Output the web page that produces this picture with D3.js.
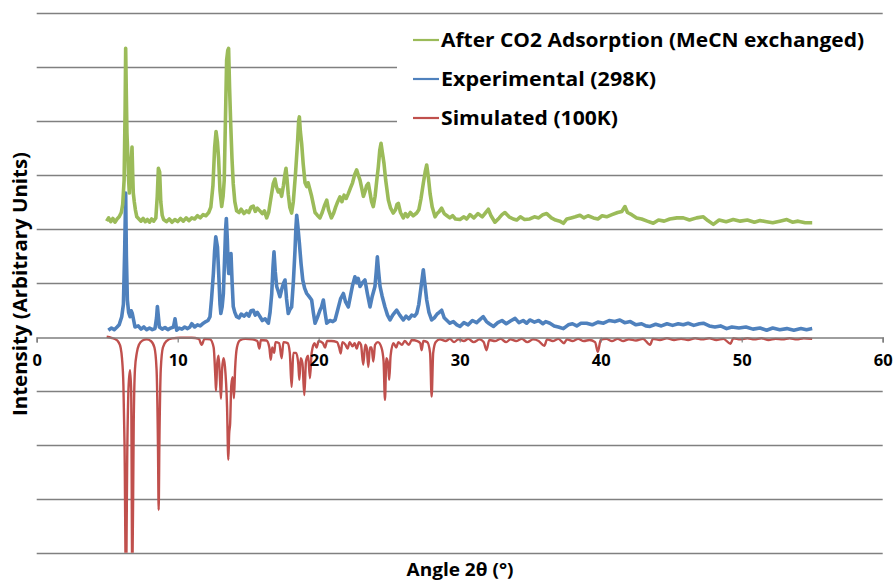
<!DOCTYPE html>
<html>
<head>
<meta charset="utf-8">
<script src="https://cdn.jsdelivr.net/npm/d3@7"></script>
<style>
  body { margin: 0; background: #fff; }
  text { font-family: "Open Sans", "DejaVu Sans", sans-serif; font-weight: bold; fill: #000; }
</style>
</head>
<body>
<script>
var svgWidth = 894;
var svgHeight = 581;

// x ticks and y grid range (arbitrary units, one grid step = 1)
var xTicks = [0, 10, 20, 30, 40, 50, 60];
var yDomain = [-4, 6];

var seriesNames = ["After CO2 Adsorption (MeCN exchanged)", "Experimental (298K)", "Simulated (100K)"];
var seriesColors = ["#9bbb59", "#4f81bd", "#c0504d"];

// [2theta, intensity] (offset stacked)
var afterCO2 = [[4.96,2.14],[5.1,2.2],[5.25,2.13],[5.4,2.19],[5.55,2.12],[5.7,2.18],[5.85,2.22],[6.0,2.3],[6.1,2.45],[6.2,2.9],[6.27,4.2],[6.31,5.34],[6.35,4.6],[6.4,3.77],[6.47,3.3],[6.52,2.9],[6.57,2.66],[6.62,3.0],[6.7,3.2],[6.76,3.51],[6.81,3.0],[6.85,2.66],[6.92,2.5],[7.0,2.35],[7.1,2.22],[7.25,2.18],[7.4,2.14],[7.55,2.19],[7.7,2.13],[7.85,2.17],[8.0,2.12],[8.15,2.18],[8.3,2.14],[8.45,2.2],[8.55,2.6],[8.63,3.12],[8.72,3.05],[8.8,2.5],[8.9,2.25],[9.0,2.17],[9.2,2.13],[9.4,2.18],[9.6,2.12],[9.8,2.17],[10.0,2.13],[10.2,2.19],[10.4,2.14],[10.6,2.2],[10.8,2.15],[11.0,2.2],[11.2,2.18],[11.4,2.24],[11.6,2.2],[11.8,2.26],[12.0,2.24],[12.2,2.3],[12.35,2.4],[12.5,2.8],[12.62,3.5],[12.72,3.8],[12.82,3.6],[12.9,3.3],[13.0,2.7],[13.12,2.41],[13.22,2.6],[13.3,2.9],[13.4,4.2],[13.47,5.12],[13.55,5.3],[13.61,5.34],[13.68,4.6],[13.76,3.94],[13.85,3.3],[13.94,2.83],[14.05,2.5],[14.18,2.33],[14.35,2.3],[14.5,2.36],[14.7,2.28],[14.89,2.33],[15.05,2.3],[15.2,2.4],[15.36,2.42],[15.5,2.32],[15.65,2.38],[15.83,2.33],[16.0,2.28],[16.15,2.33],[16.31,2.2],[16.45,2.3],[16.6,2.55],[16.78,2.84],[16.9,2.92],[17.0,2.78],[17.13,2.68],[17.25,2.72],[17.37,2.6],[17.5,2.8],[17.6,3.0],[17.68,3.12],[17.76,2.9],[17.84,2.64],[17.95,2.4],[18.08,2.29],[18.2,2.5],[18.35,3.0],[18.5,3.6],[18.58,4.0],[18.63,4.07],[18.7,3.8],[18.79,3.58],[18.9,3.2],[19.03,2.85],[19.15,2.78],[19.25,2.85],[19.38,2.72],[19.5,2.6],[19.62,2.45],[19.74,2.3],[19.9,2.25],[20.09,2.2],[20.25,2.3],[20.4,2.42],[20.57,2.53],[20.7,2.35],[20.9,2.2],[21.05,2.28],[21.2,2.4],[21.35,2.5],[21.51,2.59],[21.65,2.5],[21.8,2.62],[21.95,2.56],[22.1,2.65],[22.25,2.75],[22.4,2.85],[22.55,3.0],[22.69,3.09],[22.8,3.0],[22.93,2.9],[23.05,2.75],[23.17,2.6],[23.3,2.7],[23.4,2.8],[23.52,2.84],[23.65,2.65],[23.75,2.5],[23.87,2.41],[24.0,2.6],[24.12,2.9],[24.23,3.15],[24.33,3.45],[24.42,3.58],[24.52,3.4],[24.63,3.21],[24.75,2.9],[24.94,2.53],[25.1,2.38],[25.29,2.29],[25.45,2.35],[25.55,2.45],[25.65,2.47],[25.8,2.3],[26.0,2.2],[26.15,2.28],[26.3,2.22],[26.5,2.3],[26.7,2.24],[26.95,2.29],[27.1,2.35],[27.25,2.55],[27.42,2.84],[27.55,3.05],[27.66,3.18],[27.78,2.95],[27.9,2.65],[28.05,2.4],[28.25,2.22],[28.4,2.28],[28.55,2.32],[28.72,2.38],[28.9,2.28],[29.1,2.24],[29.3,2.2],[29.5,2.24],[29.7,2.18],[30.02,2.17],[30.3,2.22],[30.5,2.18],[30.73,2.26],[31.0,2.2],[31.3,2.28],[31.6,2.22],[31.85,2.3],[32.03,2.36],[32.2,2.25],[32.5,2.12],[32.8,2.2],[33.0,2.26],[33.21,2.3],[33.5,2.22],[33.8,2.18],[34.04,2.16],[34.3,2.22],[34.6,2.17],[34.97,2.18],[35.3,2.22],[35.6,2.2],[35.9,2.26],[36.17,2.28],[36.5,2.2],[36.8,2.16],[37.1,2.14],[37.35,2.1],[37.6,2.18],[37.9,2.2],[38.2,2.22],[38.53,2.25],[38.8,2.2],[39.1,2.24],[39.48,2.2],[39.8,2.18],[40.1,2.24],[40.42,2.22],[40.8,2.26],[41.2,2.3],[41.5,2.32],[41.72,2.41],[41.9,2.3],[42.2,2.26],[42.55,2.2],[42.9,2.18],[43.3,2.14],[43.73,2.1],[44.1,2.16],[44.5,2.14],[44.9,2.18],[45.4,2.2],[45.86,2.2],[46.3,2.16],[46.8,2.2],[47.28,2.22],[47.6,2.15],[47.99,2.08],[48.4,2.16],[48.9,2.13],[49.4,2.17],[49.9,2.14],[50.4,2.16],[50.9,2.12],[51.3,2.15],[51.77,2.13],[52.2,2.11],[52.7,2.14],[53.2,2.17],[53.6,2.12],[54.0,2.14],[54.5,2.11],[55.0,2.11]];

var experimental = [[5.08,0.12],[5.3,0.16],[5.5,0.13],[5.7,0.18],[5.85,0.22],[6.03,0.37],[6.15,0.6],[6.24,1.6],[6.31,2.66],[6.36,1.5],[6.43,0.68],[6.52,0.45],[6.62,0.37],[6.7,0.48],[6.78,0.43],[6.88,0.3],[6.97,0.18],[7.2,0.2],[7.4,0.14],[7.6,0.18],[7.8,0.13],[8.0,0.16],[8.2,0.13],[8.39,0.15],[8.5,0.35],[8.56,0.56],[8.62,0.4],[8.7,0.18],[8.9,0.14],[9.1,0.17],[9.3,0.13],[9.5,0.16],[9.7,0.18],[9.81,0.33],[9.93,0.12],[10.1,0.16],[10.3,0.14],[10.5,0.18],[10.7,0.15],[10.87,0.18],[11.0,0.24],[11.2,0.18],[11.4,0.22],[11.6,0.2],[11.82,0.25],[12.0,0.28],[12.15,0.3],[12.29,0.37],[12.4,0.7],[12.53,1.17],[12.62,1.6],[12.7,1.85],[12.82,1.66],[12.92,1.1],[13.0,0.6],[13.06,0.43],[13.15,0.55],[13.24,0.8],[13.32,1.4],[13.4,2.0],[13.45,2.19],[13.52,1.8],[13.58,1.3],[13.62,1.17],[13.7,1.4],[13.78,1.54],[13.86,1.0],[13.94,0.56],[14.05,0.45],[14.18,0.37],[14.35,0.35],[14.5,0.42],[14.7,0.38],[14.89,0.43],[15.05,0.38],[15.2,0.48],[15.36,0.49],[15.5,0.4],[15.65,0.45],[15.84,0.37],[16.0,0.3],[16.2,0.33],[16.43,0.25],[16.55,0.45],[16.67,0.8],[16.76,1.3],[16.83,1.57],[16.92,1.2],[17.02,0.93],[17.12,0.85],[17.25,0.74],[17.4,0.9],[17.52,1.0],[17.61,1.05],[17.72,0.7],[17.84,0.43],[17.95,0.5],[18.08,0.55],[18.2,1.0],[18.32,1.6],[18.38,2.0],[18.44,2.25],[18.52,2.05],[18.63,1.73],[18.75,1.35],[18.87,1.05],[19.0,0.9],[19.15,0.8],[19.3,0.75],[19.5,0.68],[19.62,0.45],[19.74,0.25],[19.9,0.35],[20.09,0.49],[20.2,0.55],[20.33,0.68],[20.45,0.45],[20.57,0.25],[20.8,0.3],[21.0,0.28],[21.16,0.31],[21.35,0.5],[21.55,0.7],[21.75,0.8],[21.9,0.65],[22.1,0.55],[22.25,0.75],[22.4,0.95],[22.57,1.11],[22.7,1.0],[22.8,1.08],[22.93,0.93],[23.1,1.0],[23.28,1.05],[23.45,0.8],[23.64,0.55],[23.8,0.75],[23.99,0.93],[24.08,1.2],[24.16,1.48],[24.25,1.2],[24.35,0.93],[24.5,0.75],[24.7,0.55],[24.88,0.4],[25.06,0.31],[25.25,0.4],[25.4,0.45],[25.53,0.49],[25.75,0.4],[26.0,0.31],[26.2,0.38],[26.4,0.33],[26.6,0.4],[26.8,0.38],[26.95,0.43],[27.1,0.6],[27.25,0.9],[27.35,1.1],[27.42,1.24],[27.52,1.0],[27.66,0.68],[27.82,0.45],[28.01,0.31],[28.2,0.35],[28.4,0.42],[28.55,0.45],[28.72,0.49],[28.9,0.35],[29.1,0.3],[29.3,0.25],[29.55,0.28],[29.8,0.22],[30.02,0.19],[30.3,0.26],[30.6,0.22],[30.9,0.3],[31.2,0.26],[31.45,0.32],[31.67,0.37],[31.9,0.28],[32.1,0.24],[32.4,0.19],[32.7,0.26],[33.0,0.3],[33.3,0.24],[33.6,0.29],[33.93,0.34],[34.2,0.26],[34.5,0.3],[34.75,0.25],[34.97,0.31],[35.3,0.27],[35.6,0.3],[35.9,0.24],[36.1,0.28],[36.4,0.25],[36.7,0.2],[37.0,0.18],[37.35,0.15],[37.7,0.22],[38.0,0.24],[38.3,0.2],[38.6,0.25],[39.0,0.25],[39.4,0.22],[39.8,0.27],[40.2,0.25],[40.6,0.3],[41.0,0.28],[41.36,0.31],[41.7,0.26],[42.1,0.28],[42.5,0.22],[42.9,0.24],[43.2,0.2],[43.5,0.19],[43.9,0.23],[44.3,0.2],[44.7,0.24],[45.1,0.21],[45.5,0.24],[45.86,0.22],[46.2,0.25],[46.6,0.21],[47.0,0.24],[47.28,0.25],[47.7,0.2],[48.1,0.18],[48.5,0.2],[48.93,0.15],[49.3,0.18],[49.8,0.16],[50.3,0.18],[50.8,0.14],[51.3,0.16],[51.77,0.12],[52.2,0.16],[52.7,0.13],[53.2,0.15],[53.7,0.12],[54.2,0.15],[54.6,0.13],[55.0,0.15]];

var simulated = [[4.96,0],[5.3,-0.02],[5.6,-0.05],[5.8,-0.1],[5.95,-0.2],[6.05,-0.4],[6.15,-0.9],[6.23,-2.0],[6.33,-4.6],[6.43,-2.0],[6.52,-0.9],[6.62,-0.62],[6.7,-1.0],[6.78,-4.6],[6.88,-1.6],[6.97,-0.6],[7.1,-0.3],[7.25,-0.15],[7.5,-0.07],[7.8,-0.05],[8.1,-0.08],[8.35,-0.2],[8.5,-0.6],[8.6,-2.0],[8.65,-3.21],[8.7,-2.0],[8.8,-0.6],[8.95,-0.2],[9.2,-0.08],[9.6,-0.03],[10.2,-0.02],[11.0,-0.02],[11.5,-0.04],[11.7,-0.15],[11.9,-0.04],[12.3,-0.05],[12.55,-0.2],[12.68,-0.8],[12.72,-1.0],[12.8,-0.5],[12.9,-0.35],[13.0,-0.8],[13.07,-1.15],[13.15,-0.6],[13.25,-0.4],[13.35,-0.55],[13.5,-1.3],[13.59,-2.28],[13.65,-1.8],[13.72,-1.6],[13.8,-0.9],[13.9,-0.75],[13.99,-1.14],[14.07,-0.6],[14.2,-0.2],[14.4,-0.07],[14.8,-0.04],[15.3,-0.05],[15.65,-0.08],[15.79,-0.22],[15.9,-0.06],[16.3,-0.07],[16.5,-0.2],[16.6,-0.43],[16.7,-0.2],[16.85,-0.3],[16.93,-0.1],[17.2,-0.12],[17.37,-0.4],[17.5,-0.1],[17.8,-0.12],[17.95,-0.3],[18.08,-0.93],[18.2,-0.3],[18.4,-0.3],[18.55,-0.5],[18.63,-0.8],[18.72,-0.4],[18.85,-0.5],[18.98,-1.08],[19.1,-0.45],[19.25,-0.35],[19.38,-0.77],[19.5,-0.3],[19.7,-0.12],[19.85,-0.2],[20.0,-0.08],[20.3,-0.12],[20.45,-0.2],[20.6,-0.08],[20.9,-0.08],[21.3,-0.1],[21.45,-0.2],[21.56,-0.31],[21.68,-0.1],[21.9,-0.15],[22.05,-0.22],[22.2,-0.1],[22.4,-0.18],[22.55,-0.12],[22.7,-0.22],[22.85,-0.1],[23.0,-0.15],[23.16,-0.52],[23.3,-0.15],[23.4,-0.2],[23.52,-0.56],[23.63,-0.2],[23.75,-0.2],[23.87,-0.46],[24.0,-0.15],[24.2,-0.1],[24.45,-0.2],[24.6,-0.45],[24.7,-1.17],[24.8,-0.4],[24.92,-0.5],[25.0,-0.8],[25.1,-0.35],[25.3,-0.12],[25.5,-0.2],[25.65,-0.1],[25.9,-0.15],[26.1,-0.08],[26.4,-0.15],[26.6,-0.06],[27.0,-0.08],[27.2,-0.12],[27.3,-0.25],[27.42,-0.08],[27.7,-0.1],[27.9,-0.3],[28.01,-1.11],[28.12,-0.3],[28.3,-0.1],[28.6,-0.05],[29.0,-0.08],[29.3,-0.04],[29.6,-0.1],[29.9,-0.05],[30.3,-0.08],[30.6,-0.04],[31.0,-0.1],[31.4,-0.05],[31.7,-0.1],[31.9,-0.25],[32.1,-0.06],[32.5,-0.08],[32.9,-0.04],[33.3,-0.1],[33.6,-0.05],[34.0,-0.08],[34.4,-0.04],[34.8,-0.1],[35.2,-0.05],[35.6,-0.08],[36.0,-0.17],[36.2,-0.05],[36.6,-0.08],[37.0,-0.04],[37.4,-0.12],[37.6,-0.05],[38.0,-0.08],[38.4,-0.04],[38.8,-0.08],[39.2,-0.06],[39.6,-0.1],[39.8,-0.28],[40.0,-0.06],[40.4,-0.04],[40.8,-0.08],[41.2,-0.04],[41.6,-0.08],[42.0,-0.05],[42.5,-0.07],[43.0,-0.04],[43.5,-0.15],[43.7,-0.04],[44.2,-0.06],[44.7,-0.03],[45.2,-0.06],[45.7,-0.04],[46.2,-0.06],[46.7,-0.03],[47.2,-0.05],[47.7,-0.03],[48.2,-0.06],[48.7,-0.04],[49.2,-0.13],[49.4,-0.03],[49.9,-0.05],[50.4,-0.03],[50.9,-0.05],[51.4,-0.03],[51.9,-0.06],[52.4,-0.04],[52.9,-0.05],[53.4,-0.03],[53.9,-0.05],[54.4,-0.03],[55.0,-0.04]];

var svg = d3.select("body").append("svg")
    .attr("width", svgWidth)
    .attr("height", svgHeight);

var xScale = d3.scaleLinear()
    .domain([0, 60])
    .range([36.7, 882.7]);
var yScale = d3.scaleLinear()
    .domain(yDomain)
    .range([552.7, 12.7]);

// clip so the big simulated peaks stop at the plot bottom
svg.append("clipPath").attr("id", "plotClip")
  .append("rect")
    .attr("x", xScale(0))
    .attr("y", yScale(yDomain[1]) - 2)
    .attr("width", xScale(60) - xScale(0))
    .attr("height", yScale(yDomain[0]) - yScale(yDomain[1]) + 2);

// horizontal gridlines
svg.append("g")
  .selectAll("line")
  .data(yScale.ticks(10).filter(function(d) { return d !== 0; }))
  .join("line")
    .attr("x1", xScale(0))
    .attr("x2", xScale(60))
    .attr("y1", function(d) { return Math.round(yScale(d)) + 0.5; })
    .attr("y2", function(d) { return Math.round(yScale(d)) + 0.5; })
    .attr("stroke", "#808080")
    .attr("stroke-width", 1.3);

// series
var lineLinear = d3.line()
    .x(function(d) { return xScale(d[0]); })
    .y(function(d) { return yScale(d[1]); });
var lineSmooth = d3.line()
    .curve(d3.curveMonotoneX)
    .x(function(d) { return xScale(d[0]); })
    .y(function(d) { return yScale(d[1]); });

var plot = svg.append("g").attr("clip-path", "url(#plotClip)");
plot.append("path")
    .attr("d", lineSmooth(simulated))
    .attr("fill", "none")
    .attr("stroke", seriesColors[2])
    .attr("stroke-width", 2.4)
    .attr("stroke-linejoin", "round");
plot.append("path")
    .attr("d", lineLinear(experimental))
    .attr("fill", "none")
    .attr("stroke", seriesColors[1])
    .attr("stroke-width", 3.6)
    .attr("stroke-linejoin", "round");
plot.append("path")
    .attr("d", lineLinear(afterCO2))
    .attr("fill", "none")
    .attr("stroke", seriesColors[0])
    .attr("stroke-width", 3.6)
    .attr("stroke-linejoin", "round");

// x axis through zero
var x_axis = d3.axisBottom(xScale)
    .tickValues(xTicks)
    .tickSize(5)
    .tickPadding(12)
    .tickFormat(d3.format("d"));
var xg = svg.append("g")
    .attr("transform", "translate(0," + (Math.round(yScale(0)) + 0.5) + ")")
    .call(x_axis);
xg.select(".domain").attr("stroke", "#7f7f7f").attr("stroke-width", 1.6);
xg.selectAll(".tick line").attr("stroke", "#7f7f7f").attr("stroke-width", 1.2);
xg.selectAll(".tick text")
    .attr("font-family", "'Open Sans', sans-serif")
    .attr("font-weight", "bold")
    .attr("font-size", 16.5)
    .attr("fill", "#000");

// legend (white box hides gridlines under it)
svg.append("rect")
    .attr("x", 397)
    .attr("y", 18)
    .attr("width", 486)
    .attr("height", 118)
    .attr("fill", "#fff");
var legendWidths = [423, 215, 177];
seriesNames.forEach(function(name, i) {
    var ly = 40 + i * 39;
    svg.append("line")
        .attr("x1", 413).attr("x2", 439)
        .attr("y1", ly).attr("y2", ly)
        .attr("stroke", seriesColors[i])
        .attr("stroke-width", 2.2);
    svg.append("text")
        .attr("x", 441)
        .attr("y", ly + 7)
        .attr("font-size", 20)
        .attr("textLength", legendWidths[i])
        .attr("lengthAdjust", "spacingAndGlyphs")
        .text(name);
});

// axis titles
svg.append("text")
    .attr("x", 460)
    .attr("y", 576)
    .attr("text-anchor", "middle")
    .attr("font-size", 18)
    .attr("textLength", 107)
    .attr("lengthAdjust", "spacingAndGlyphs")
    .text("Angle 2θ (°)");
svg.append("text")
    .attr("transform", "translate(27,284) rotate(-90)")
    .attr("text-anchor", "middle")
    .attr("font-size", 20)
    .attr("textLength", 264)
    .attr("lengthAdjust", "spacingAndGlyphs")
    .text("Intensity (Arbitrary Units)");
</script>
</body>
</html>
